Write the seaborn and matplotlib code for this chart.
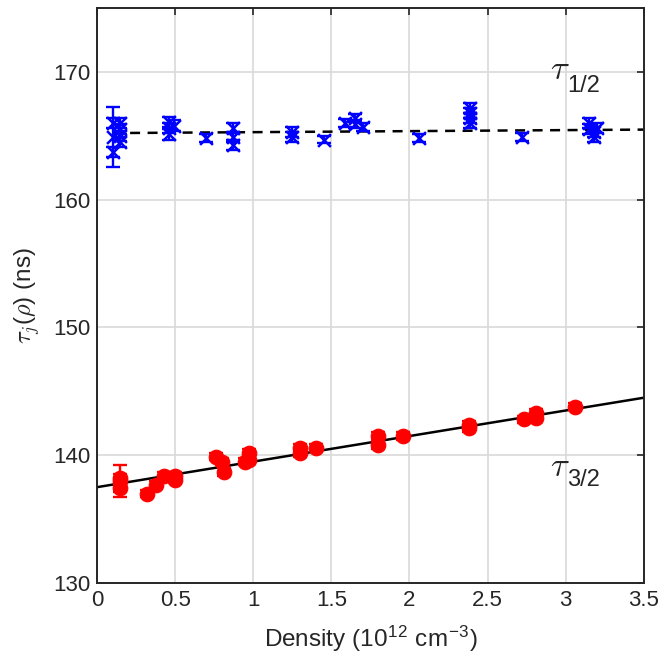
import numpy as np
import pandas as pd
import matplotlib
matplotlib.use("Agg")
import matplotlib.pyplot as plt
import seaborn as sns

# tau_1/2 measurements (blue)
dens_12 = [0.10, 0.10, 0.10, 0.15, 0.15, 0.15, 0.15, 0.46, 0.46, 0.46, 0.49, 0.70,
           0.87, 0.87, 0.87, 1.25, 1.25, 1.45, 1.59, 1.65, 1.65, 1.70, 2.06,
           2.39, 2.39, 2.39, 2.39, 2.72, 3.15, 3.15, 3.18, 3.18, 3.20]
tau_12 = [166.0, 163.7, 164.9, 166.0, 165.5, 165.0, 164.5, 166.1, 165.1, 165.6, 165.8, 164.8,
          165.6, 164.9, 164.3, 165.3, 164.9, 164.7, 166.0, 166.4, 165.9, 165.7, 164.8,
          167.2, 166.8, 166.0, 166.4, 164.9, 166.0, 165.5, 164.9, 165.3, 165.6]
err_12 = [0.4, 0.4, 2.35, 0.4, 0.4, 0.4, 0.4, 0.4, 0.4, 0.4, 0.4, 0.3,
          0.4, 0.4, 0.4, 0.4, 0.4, 0.3, 0.3, 0.3, 0.3, 0.3, 0.3,
          0.4, 0.4, 0.4, 0.4, 0.3, 0.4, 0.4, 0.4, 0.4, 0.4]

# tau_3/2 measurements (red)
dens_32 = [0.15, 0.15, 0.15, 0.32, 0.38, 0.43, 0.50, 0.50, 0.76, 0.80, 0.81, 0.95, 0.97, 0.97,
           1.30, 1.30, 1.40, 1.80, 1.80, 1.96, 2.38, 2.38, 2.73, 2.81, 2.81, 3.06]
tau_32 = [138.2, 137.4, 137.95, 137.0, 137.7, 138.4, 138.4, 138.1, 139.9, 139.5, 138.7, 139.5, 140.2, 139.6,
          140.6, 140.2, 140.6, 141.5, 140.8, 141.5, 142.4, 142.1, 142.8, 143.3, 142.9, 143.8]
err_32 = [0.3, 0.3, 1.25, 0.3, 0.3, 0.3, 0.3, 0.3, 0.3, 0.3, 0.3, 0.3, 0.3, 0.3,
          0.3, 0.3, 0.3, 0.3, 0.3, 0.3, 0.3, 0.3, 0.3, 0.3, 0.3, 0.3]

# linear fits: (intercept, slope, x range)
fit_12 = (165.2, 0.08, (0.1, 3.5))
fit_32 = (137.5, 2.0, (0.0, 3.5))

sns.set_style("white")
plt.rcParams.update({
    "font.family": ["Liberation Sans", "DejaVu Sans"],
    "mathtext.fontset": "cm",
    "font.size": 16,
    "xtick.direction": "in",
    "ytick.direction": "in",
    "xtick.top": True,
    "ytick.right": True,
})

fig = plt.figure(figsize=(6.61, 6.62), dpi=100)
ax = fig.add_axes([0.1467, 0.1193, 0.8273, 0.8687])

df12 = pd.DataFrame({"x": dens_12, "y": tau_12, "e": err_12})
df32 = pd.DataFrame({"x": dens_32, "y": tau_32, "e": err_32})

# fit lines
xf = np.array(fit_12[2])
sns.lineplot(x=xf, y=fit_12[0] + fit_12[1] * xf, ax=ax, color="black",
             linestyle=(0, (4, 3)), linewidth=1.8, zorder=2)
xf = np.array(fit_32[2])
sns.lineplot(x=xf, y=fit_32[0] + fit_32[1] * xf, ax=ax, color="black",
             linewidth=1.8, zorder=2)

# error bars + markers
ax.errorbar(df12.x, df12.y, yerr=df12.e, fmt="none", ecolor="blue",
            elinewidth=1.7, capsize=5, capthick=1.7, zorder=3)
sns.scatterplot(data=df12, x="x", y="y", ax=ax, marker="x", color="blue",
                s=85, linewidth=1.8, zorder=4)
ax.errorbar(df32.x, df32.y, yerr=df32.e, fmt="none", ecolor="red",
            elinewidth=1.7, capsize=5, capthick=1.7, zorder=3)
sns.scatterplot(data=df32, x="x", y="y", ax=ax, marker="o", color="red",
                s=110, edgecolor="red", zorder=4)

# curve labels (tau in math italic, subscript as plain text)
ax.text(2.90, 170.15, r"$\tau$", fontsize=25, ha="left", va="center")
ax.text(3.01, 168.9, "1/2", fontsize=17, ha="left", va="center")
ax.text(2.90, 139.15, r"$\tau$", fontsize=25, ha="left", va="center")
ax.text(3.01, 138.05, "3/2", fontsize=17, ha="left", va="center")

ax.set_xlim(0, 3.5)
ax.set_ylim(130, 175)
ax.set_xticks([0, 0.5, 1, 1.5, 2, 2.5, 3, 3.5])
ax.set_xticklabels(["0", "0.5", "1", "1.5", "2", "2.5", "3", "3.5"])
ax.set_yticks([130, 140, 150, 160, 170])
ax.grid(True, color="#d9d9d9", linewidth=1.2)
ax.set_axisbelow(True)
for s in ax.spines.values():
    s.set_color("#262626")
    s.set_linewidth(1.4)
ax.tick_params(colors="#262626", labelsize=16, length=5, width=1.2, pad=5)
ax.set_xlabel(r"Density (10$^{\mathregular{12}}$ cm$^{\mathregular{-3}}$)",
              fontsize=17.5, color="#262626", labelpad=9)
ax.set_ylabel(r"$\tau_j$($\rho$) (ns)", fontsize=17.5, color="#262626", labelpad=8)

fig.savefig("out.png", dpi=100)
